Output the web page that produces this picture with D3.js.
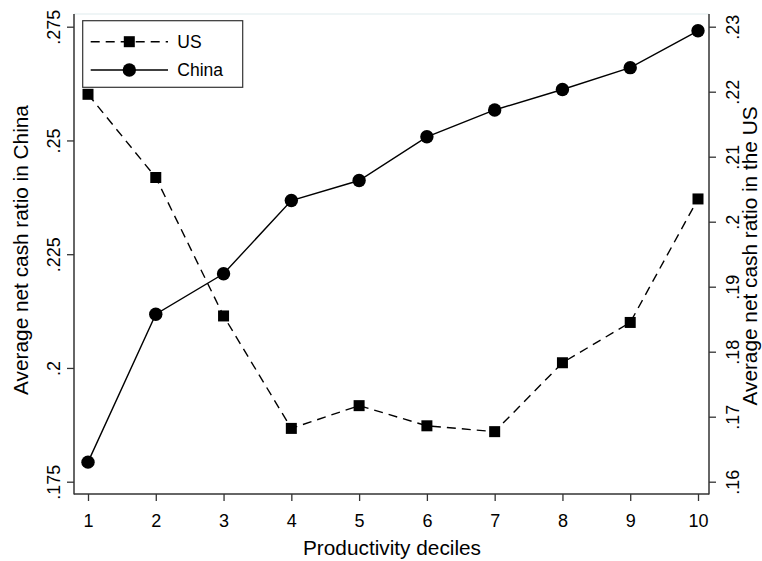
<!DOCTYPE html>
<html><head><meta charset="utf-8">
<script src="https://cdn.jsdelivr.net/npm/d3@7"></script>
<style>body{margin:0;background:#fff}svg{display:block}text{font-family:"Liberation Sans",Arial,sans-serif;fill:#000}</style>
</head><body><svg id="c" width="762" height="561"></svg>
<script>
const deciles = [1,2,3,4,5,6,7,8,9,10];
const chinaVals = [0.1793,0.2118,0.2207,0.2368,0.2412,0.2508,0.2567,0.2612,0.2660,0.2741];
const usVals = [0.2196,0.2068,0.1855,0.1682,0.1717,0.1686,0.1677,0.1783,0.1845,0.2035];
const leftTicks = [0.175,0.2,0.225,0.25,0.275];
const leftTickLabels = [".175",".2",".225",".25",".275"];
const rightTicks = [0.16,0.17,0.18,0.19,0.2,0.21,0.22,0.23];
const rightTickLabels = [".16",".17",".18",".19",".2",".21",".22",".23"];
const seriesNames = ["US","China"];

const svg = d3.select("#c");
const L=74, R=709, T=14, B=494;
const x = d3.scaleLinear().domain([1,10]).range([88,698]);
const yL = d3.scaleLinear().domain([0.175,0.275]).range([481.7,26.7]);
const yR = d3.scaleLinear().domain([0.16,0.23]).range([481.7,26.7]);
const axisCol = "#333";
const tickFont = 18, titleFont = 20.8;

svg.append("line").attr("x1",L).attr("x2",R).attr("y1",T).attr("y2",T).attr("stroke","#eaf2f3").attr("stroke-width",1.5);

const gl = svg.append("g").attr("transform",`translate(${L},0)`)
  .call(d3.axisLeft(yL).tickValues(leftTicks).tickSize(7).tickFormat((d,i)=>leftTickLabels[i]));
const gr = svg.append("g").attr("transform",`translate(${R},0)`)
  .call(d3.axisRight(yR).tickValues(rightTicks).tickSize(7).tickFormat((d,i)=>rightTickLabels[i]));
const gb = svg.append("g").attr("transform",`translate(0,${B})`)
  .call(d3.axisBottom(x).tickValues(deciles).tickSize(7).tickFormat(d3.format("d")));
[gl,gr,gb].forEach(g=>{
  g.select(".domain").remove();
  g.selectAll(".tick line").attr("stroke",axisCol).attr("stroke-width",1.3);
  g.selectAll("text").attr("font-size",tickFont).attr("font-family",'"Liberation Sans",Arial,sans-serif').attr("fill","#000");
});
svg.append("line").attr("x1",L).attr("x2",L).attr("y1",T).attr("y2",B+0.5).attr("stroke",axisCol).attr("stroke-width",1.5);
svg.append("line").attr("x1",R).attr("x2",R).attr("y1",T).attr("y2",B+0.5).attr("stroke",axisCol).attr("stroke-width",1.5);
svg.append("line").attr("x1",L).attr("x2",R).attr("y1",B).attr("y2",B).attr("stroke",axisCol).attr("stroke-width",1.5);

gl.selectAll(".tick text").attr("x",null).attr("dy",null)
  .attr("text-anchor","middle").attr("transform","translate(-14,0) rotate(-90)");
gr.selectAll(".tick text").attr("x",null).attr("dy",null)
  .attr("text-anchor","middle").attr("transform","translate(30,0) rotate(-90)");
gb.selectAll(".tick text").attr("y",null).attr("dy",null).attr("transform","translate(0,32.7)");

svg.append("text").attr("transform","translate(28,250) rotate(-90)").attr("text-anchor","middle")
  .attr("font-size",titleFont).text("Average net cash ratio in China");
svg.append("text").attr("transform","translate(757,256) rotate(-90)").attr("text-anchor","middle")
  .attr("font-size",titleFont).text("Average net cash ratio in the US");
svg.append("text").attr("x",392).attr("y",555).attr("text-anchor","middle")
  .attr("font-size",titleFont).text("Productivity deciles");

const lineL = d3.line().x((d,i)=>x(deciles[i])).y(d=>yL(d));
const lineR = d3.line().x((d,i)=>x(deciles[i])).y(d=>yR(d));
svg.append("path").attr("d",lineR(usVals)).attr("fill","none").attr("stroke","#000").attr("stroke-width",1.4).attr("stroke-dasharray","9,6");
svg.append("path").attr("d",lineL(chinaVals)).attr("fill","none").attr("stroke","#000").attr("stroke-width",1.4);
const sq=11;
svg.selectAll(".us").data(usVals).enter().append("rect")
  .attr("x",(d,i)=>x(deciles[i])-sq/2).attr("y",d=>yR(d)-sq/2).attr("width",sq).attr("height",sq).attr("fill","#000");
svg.selectAll(".cn").data(chinaVals).enter().append("circle")
  .attr("cx",(d,i)=>x(deciles[i])).attr("cy",d=>yL(d)).attr("r",6.7).attr("fill","#000");

const lg = svg.append("g");
lg.append("rect").attr("x",82.7).attr("y",20.7).attr("width",160).attr("height",66.6).attr("fill","#fff").attr("stroke",axisCol).attr("stroke-width",1.2);
const rowsY=[41.7,70];
seriesNames.forEach((nm,i)=>{
  const yy=rowsY[i];
  lg.append("line").attr("x1",90.7).attr("x2",168).attr("y1",yy).attr("y2",yy).attr("stroke","#000").attr("stroke-width",1.4)
    .attr("stroke-dasharray", i===0?"9,6":null);
  if(i===0) lg.append("rect").attr("x",129.3-sq/2).attr("y",yy-sq/2).attr("width",sq).attr("height",sq).attr("fill","#000");
  else lg.append("circle").attr("cx",129.3).attr("cy",yy).attr("r",6.7).attr("fill","#000");
  lg.append("text").attr("x",177.3).attr("y",yy+6.3).attr("font-size",17.5).text(nm);
});
</script></body></html>
